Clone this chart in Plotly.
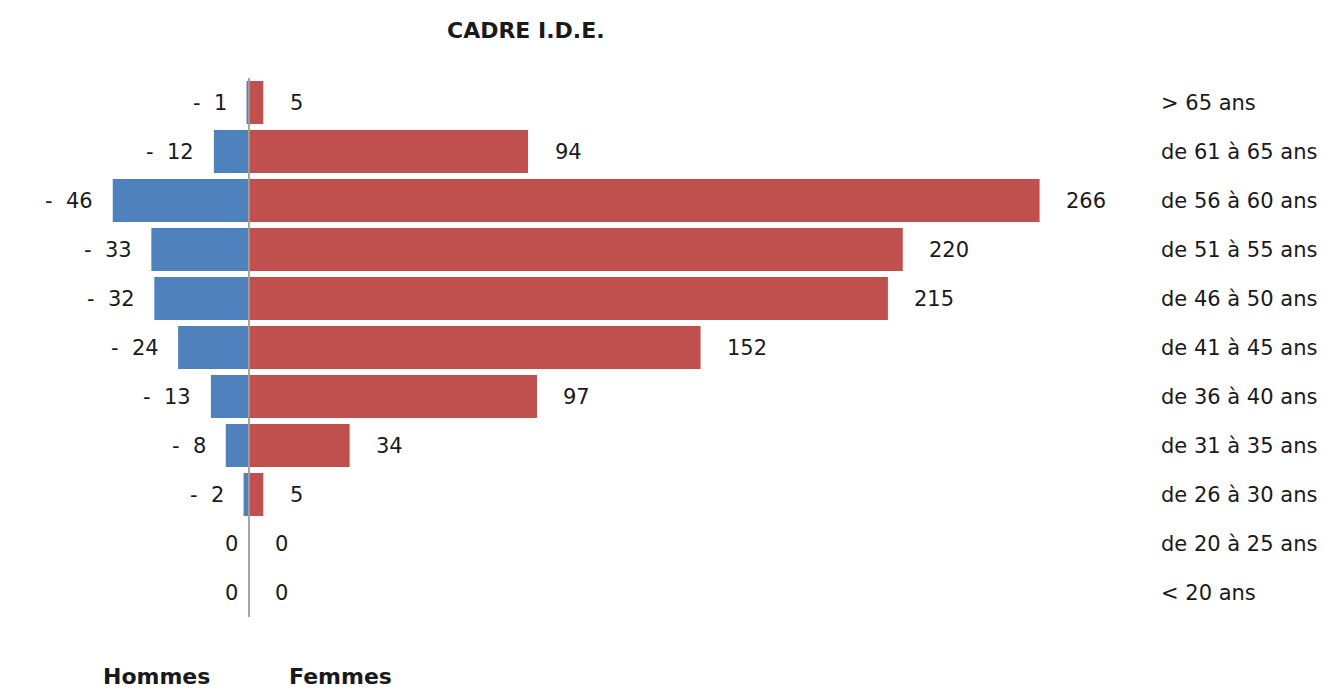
import plotly.graph_objects as go

categories = ["> 65 ans", "de 61 à 65 ans", "de 56 à 60 ans", "de 51 à 55 ans",
              "de 46 à 50 ans", "de 41 à 45 ans", "de 36 à 40 ans", "de 31 à 35 ans",
              "de 26 à 30 ans", "de 20 à 25 ans", "< 20 ans"]
hommes = [1, 12, 46, 33, 32, 24, 13, 8, 2, 0, 0]
femmes = [5, 94, 266, 220, 215, 152, 97, 34, 5, 0, 0]
title_text = "CADRE I.D.E."
legend_labels = ["Hommes", "Femmes"]

BLUE = "#4F81BD"
RED = "#C0504D"
TXT = "#1a1a1a"
LBL_FONT = dict(family="DejaVu Sans", size=21, color=TXT)

W, H = 1333, 689
ML, MR, MT, MB = 20, 183, 78, 72
pw = W - ML - MR
ph = H - MT - MB

fig = go.Figure()
fig.add_trace(go.Bar(
    y=categories, x=[-v for v in hommes], orientation="h", name=legend_labels[0],
    marker=dict(color=BLUE, line=dict(color="white", width=1)), hoverinfo="skip"))
fig.add_trace(go.Bar(
    y=categories, x=femmes, orientation="h", name=legend_labels[1],
    marker=dict(color=RED, line=dict(color="white", width=1)), hoverinfo="skip"))

annotations = []
for c, v in zip(categories, hommes):
    annotations.append(dict(
        x=-v, y=c, xref="x", yref="y", text=(f"-  {v}" if v else "0"),
        showarrow=False, xanchor="right", yanchor="middle",
        xshift=(-17 if v else -9), font=LBL_FONT))
for c, v in zip(categories, femmes):
    annotations.append(dict(
        x=v, y=c, xref="x", yref="y", text=str(v),
        showarrow=False, xanchor="left", yanchor="middle",
        xshift=24, font=LBL_FONT))

def px_x(p):
    return (p - ML) / pw

def px_y(p):
    return (H - MB - p) / ph

BOLD = dict(family="DejaVu Sans", size=22, color=TXT, weight="bold")
annotations.append(dict(x=px_x(526), y=px_y(30), xref="paper", yref="paper",
                        text="<b>" + title_text + "</b>", showarrow=False,
                        xanchor="center", yanchor="middle", font=BOLD))
annotations.append(dict(x=px_x(156), y=px_y(676), xref="paper", yref="paper",
                        text="<b>" + legend_labels[0] + "</b>", showarrow=False,
                        xanchor="center", yanchor="middle", font=BOLD))
annotations.append(dict(x=px_x(340), y=px_y(676), xref="paper", yref="paper",
                        text="<b>" + legend_labels[1] + "</b>", showarrow=False,
                        xanchor="center", yanchor="middle", font=BOLD))

upx = 2.974  # pixels per unit
zero_px = 249
xmin = -(zero_px - ML) / upx
xmax = (ML + pw - zero_px) / upx

fig.update_layout(
    width=W, height=H,
    margin=dict(l=ML, r=MR, t=MT, b=MB, autoexpand=False),
    paper_bgcolor="white", plot_bgcolor="white",
    barmode="relative", bargap=0.1,
    showlegend=False,
    xaxis=dict(range=[xmin, xmax], showgrid=False, zeroline=False,
               showticklabels=False, ticks="", showline=False, fixedrange=True),
    yaxis=dict(categoryorder="array", categoryarray=categories, autorange="reversed",
               side="right", showgrid=False, zeroline=False, showline=False,
               ticks="", ticklabelstandoff=10, tickfont=LBL_FONT, fixedrange=True),
    annotations=annotations,
    shapes=[dict(type="line", xref="x", yref="paper", x0=0, x1=0, y0=0, y1=1,
                 line=dict(color="#888888", width=1.5), layer="above")],
)

fig.write_html("out.html", config={"displayModeBar": False},
               post_script="document.body.style.margin='0';document.body.style.overflow='hidden';")
